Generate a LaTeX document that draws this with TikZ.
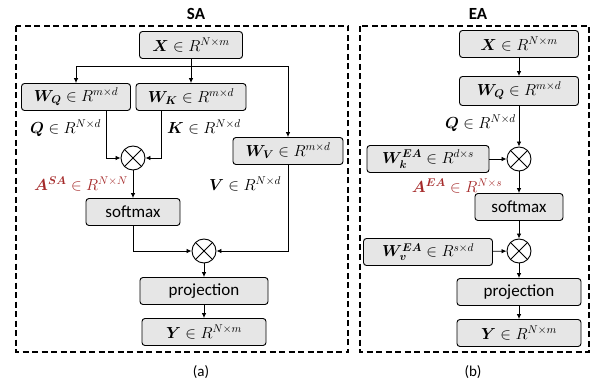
\RequirePackage{fix-cm}
\documentclass[tikz,border=0pt]{standalone}
\usepackage{fontspec}
\setmainfont{Carlito}
\usepackage{amsmath,bm}
\usepackage{xcolor}
\definecolor{boxgray}{HTML}{E6E6E6}
\definecolor{attnred}{HTML}{A52A2A}
\usetikzlibrary{arrows.meta}

\begin{document}
\begin{tikzpicture}[x=1pt, y=-1pt, font=\fontsize{16}{18}\selectfont,
  blk/.style={draw, fill=boxgray, rounded corners=3pt, line width=0.9pt,
    minimum height=27pt, inner sep=0pt},
  mult/.style={draw, circle, line width=0.9pt, minimum size=24pt, inner sep=0pt,
    path picture={\draw[line width=0.9pt]
      (path picture bounding box.north west) -- (path picture bounding box.south east)
      (path picture bounding box.north east) -- (path picture bounding box.south west);}},
  arr/.style={-{Latex[length=5pt,width=4.5pt]}, line width=0.8pt},
  dashbox/.style={line width=1.6pt, dash pattern=on 6pt off 3.5pt},
  ttl/.style={font=\bfseries\fontsize{17}{19}\selectfont},
  capt/.style={font=\fontsize{15}{17}\selectfont},
  txt/.style={font=\fontsize{17}{19}\selectfont},
  lbl/.style={inner sep=0pt}]
  \useasboundingbox (0,0) rectangle (595,385);

  % ---- (a) self-attention ----
  \draw[dashbox] (16,26) rectangle (348,352);
  \node[ttl] (sa-title) at (196,14) {SA};
  \node[blk, minimum width=103pt] (sa-x)  at (191,45)  {$\bm{X}\in R^{N\times m}$};
  \node[blk, minimum width=109pt] (sa-wq) at (76,97)   {$\bm{W}_{\bm{Q}}\in R^{m\times d}$};
  \node[blk, minimum width=110pt] (sa-wk) at (191,97)  {$\bm{W}_{\bm{K}}\in R^{m\times d}$};
  \node[blk, minimum width=110pt] (sa-wv) at (288,151) {$\bm{W}_{\bm{V}}\in R^{m\times d}$};
  \node[mult] (sa-m1) at (133,158) {};
  \node[blk, txt, minimum width=94pt]  (sa-sm)   at (133,212) {softmax};
  \node[mult] (sa-m2) at (204,251) {};
  \node[blk, txt, minimum width=128pt] (sa-proj) at (204,291) {projection};
  \node[blk, minimum width=124pt] (sa-y) at (204,332) {$\bm{Y}\in R^{N\times m}$};
  % labels on the edges
  \node[lbl, anchor=west] (sa-q) at (30,128)  {$\bm{Q}\in R^{N\times d}$};
  \node[lbl, anchor=west] (sa-k) at (167,127) {$\bm{K}\in R^{N\times d}$};
  \node[lbl, text=attnred] (sa-a) at (81,184) {$\bm{A}^{\bm{SA}}\in R^{N\times N}$};
  \node[lbl] (sa-v) at (245,184) {$\bm{V}\in R^{N\times d}$};
  % connectors
  \coordinate (sa-split) at (191,66);
  \draw[line width=0.8pt] (sa-x) -- (sa-split);
  \draw[arr] (sa-split) -- (sa-wk);
  \draw[arr] (sa-split) -| (sa-wq);
  \draw[arr] (sa-split) -| (sa-wv);
  \draw[arr] ([xshift=30pt]sa-wq.south) |- (sa-m1);
  \draw[arr] ([xshift=-30pt]sa-wk.south) |- (sa-m1);
  \draw[arr] (sa-m1) -- (sa-sm);
  \draw[arr] (sa-sm) |- (sa-m2);
  \draw[arr] (sa-wv) |- (sa-m2);
  \draw[arr] (sa-m2) -- (sa-proj);
  \draw[arr] (sa-proj) -- (sa-y);
  \node[capt] (sa-cap) at (201,372) {(a)};

  % ---- (b) external attention ----
  \draw[dashbox] (360,26) rectangle (589,352);
  \node[ttl] (ea-title) at (478,14) {EA};
  \node[blk, minimum width=119pt] (ea-x)  at (519,44) {$\bm{X}\in R^{N\times m}$};
  \node[blk, minimum width=119pt, minimum height=29pt] (ea-wq) at (519,91) {$\bm{W}_{\bm{Q}}\in R^{m\times d}$};
  \node[mult] (ea-m1) at (519,159) {};
  \node[blk, minimum width=122pt] (ea-wk) at (428,159) {$\bm{W}_{\bm{k}}^{\bm{EA}}\in R^{d\times s}$};
  \node[blk, txt, minimum width=88pt] (ea-sm) at (519,207) {softmax};
  \node[mult] (ea-m2) at (519,251) {};
  \node[blk, minimum width=129pt] (ea-wv) at (428,252) {$\bm{W}_{\bm{v}}^{\bm{EA}}\in R^{s\times d}$};
  \node[blk, txt, minimum width=124pt] (ea-proj) at (519,292) {projection};
  \node[blk, minimum width=124pt] (ea-y) at (519,333) {$\bm{Y}\in R^{N\times m}$};
  % labels on the edges
  \node[lbl, anchor=east] (ea-q) at (516,123) {$\bm{Q}\in R^{N\times d}$};
  \node[lbl, text=attnred] (ea-a) at (457,186) {$\bm{A}^{\bm{EA}}\in R^{N\times s}$};
  % connectors
  \draw[arr] (ea-x) -- (ea-wq);
  \draw[arr] (ea-wq) -- (ea-m1);
  \draw[arr] (ea-wk) -- (ea-m1);
  \draw[arr] (ea-m1) -- (ea-sm);
  \draw[arr] (ea-sm) -- (ea-m2);
  \draw[arr] (ea-wv) -- (ea-m2);
  \draw[arr] (ea-m2) -- (ea-proj);
  \draw[arr] (ea-proj) -- (ea-y);
  \node[capt] (ea-cap) at (473,372) {(b)};
\end{tikzpicture}
\end{document}
